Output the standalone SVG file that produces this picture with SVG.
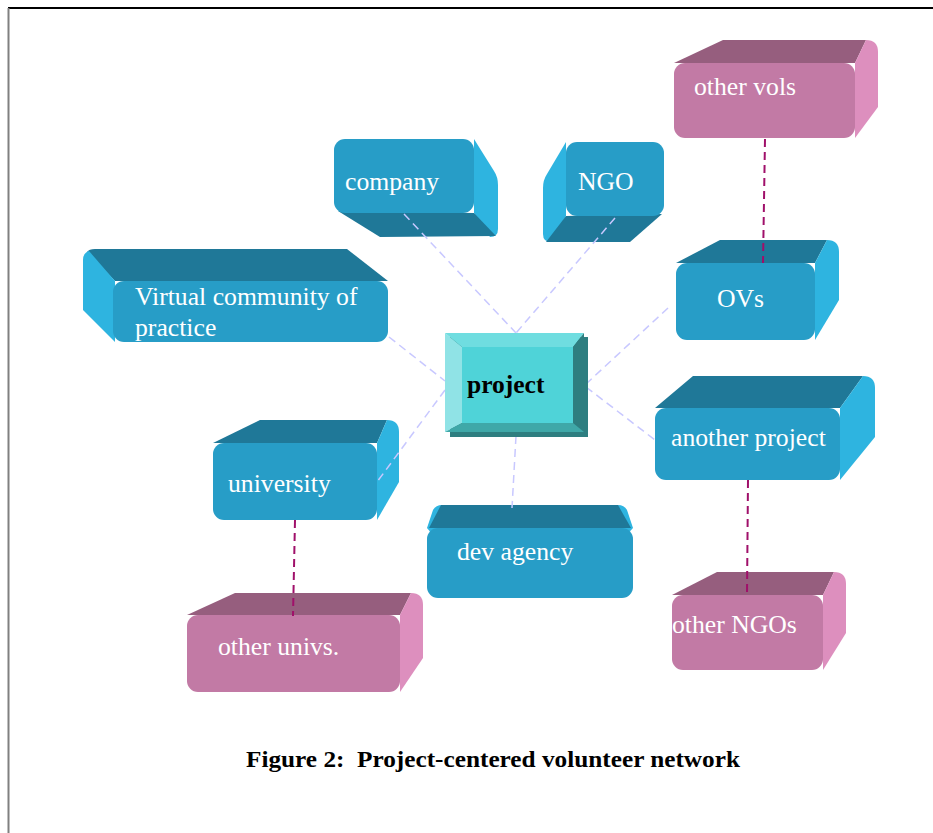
<svg xmlns="http://www.w3.org/2000/svg" width="933" height="833" viewBox="0 0 933 833">
<style>
.front{fill:#279dc7}
.dark{fill:#1f7898}
.light{fill:#2eb4e0}
.pfront{fill:#c27aa5}
.pdark{fill:#965e7e}
.plight{fill:#dd8fbe}
.lbl{font-family:"Liberation Serif","Times New Roman",serif;font-size:25.7px;fill:#ffffff}
.conn{stroke:#c8c8ff;stroke-width:1.5;stroke-dasharray:8 5;fill:none}
.pconn{stroke:#a0106a;stroke-width:2;stroke-dasharray:8 5;fill:none}
</style>
<rect x="0" y="0" width="933" height="833" fill="#ffffff"/>
<line x1="8" y1="8" x2="933" y2="8" stroke="#000000" stroke-width="2"/>
<line x1="8.5" y1="8" x2="8.5" y2="833" stroke="#808080" stroke-width="2"/>

<g id="company">
<path class="light" d="M474,139 L494,171 Q498,177 498,185 L498,229 Q498,237 490,237 L474,213 Z"/>
<path class="dark" d="M338,211 L474,213 L496,236 L380,237 Z"/>
<rect class="front" x="334" y="139" width="140" height="74" rx="11"/>
<text class="lbl" x="345" y="190">company</text>
</g>

<g id="ngo">
<path class="light" d="M566,142 L547,174 Q543,180 543,188 L543,234 Q543,242 551,242 L566,216 Z"/>
<path class="dark" d="M566,216 L662,214 L630,242 L546,242 Z"/>
<rect class="front" x="566" y="142" width="98" height="74" rx="11"/>
<text class="lbl" x="578" y="190">NGO</text>
</g>

<g id="vcop">
<path class="dark" d="M115,281 L87,252 Q89,249 95,249 L347,249 L388,281 Z"/>
<path class="light" d="M115,281 L89,251 Q83,253 83,260 L83,310 L115,342 Z"/>
<rect class="front" x="113" y="281" width="275" height="61" rx="11"/>
<text class="lbl" x="135" y="305">Virtual community of</text>
<text class="lbl" x="135" y="336">practice</text>
</g>

<g id="othervols">
<path class="pdark" d="M674,63 L723,40 L866,40 L855,63 Z"/>
<path class="plight" d="M855,63 L866,40 Q878,40 878,52 L878,107 L855,138 Z"/>
<rect class="pfront" x="674" y="63" width="181" height="75" rx="11"/>
<text class="lbl" x="694" y="95">other vols</text>
</g>

<g id="ovs">
<path class="dark" d="M676,263 L720,240 L827,240 L815,263 Z"/>
<path class="light" d="M815,263 L827,240 Q839,240 839,252 L839,300 L815,340 Z"/>
<rect class="front" x="676" y="263" width="139" height="77" rx="11"/>
<text class="lbl" x="717" y="307">OVs</text>
</g>

<g id="anotherproject">
<path class="dark" d="M655,408 L693,376 L863,376 L840,408 Z"/>
<path class="light" d="M840,408 L863,376 Q875,376 875,388 L875,437 L840,480 Z"/>
<rect class="front" x="655" y="408" width="185" height="72" rx="11"/>
<text class="lbl" x="671" y="446">another project</text>
</g>

<g id="otherngos">
<path class="pdark" d="M672,595 L717,572 L834,572 L823,595 Z"/>
<path class="plight" d="M823,595 L834,572 Q846,572 846,584 L846,633 L823,670 Z"/>
<rect class="pfront" x="672" y="595" width="151" height="75" rx="11"/>
<text class="lbl" x="672" y="633">other NGOs</text>
</g>

<g id="university">
<path class="dark" d="M213,443 L260,420 L387,420 L377,443 Z"/>
<path class="light" d="M377,443 L387,420 Q399,420 399,432 L399,482 L377,520 Z"/>
<rect class="front" x="213" y="443" width="164" height="77" rx="11"/>
<text class="lbl" x="228" y="492">university</text>
</g>

<g id="otherunivs">
<path class="pdark" d="M187,615 L235,593 L411,593 L400,615 Z"/>
<path class="plight" d="M400,615 L411,593 Q423,593 423,605 L423,658 L400,692 Z"/>
<rect class="pfront" x="187" y="615" width="213" height="77" rx="11"/>
<text class="lbl" x="218" y="655">other univs.</text>
</g>

<g id="devagency">
<path class="light" d="M427,528 L433,510 Q436,505 442,505 L437,540 Z"/>
<path class="light" d="M633,528 L627,510 Q624,505 618,505 L622,540 Z"/>
<path class="dark" d="M429,528 L441,505 L618,505 L631,528 Z"/>
<rect class="front" x="427" y="528" width="206" height="70" rx="11"/>
<text class="lbl" x="457" y="560">dev agency</text>
</g>

<g id="connectors">
<line class="conn" x1="404" y1="214" x2="516" y2="333"/>
<line class="conn" x1="615" y1="218" x2="516" y2="333"/>
<line class="conn" x1="389" y1="337" x2="445" y2="381"/>
<line class="conn" x1="445" y1="390" x2="377" y2="482"/>
<line class="conn" x1="516" y1="436" x2="512" y2="508"/>
<line class="conn" x1="668" y1="308" x2="586" y2="384"/>
<line class="conn" x1="586" y1="387" x2="655" y2="440"/>
<line class="pconn" x1="765" y1="139" x2="763" y2="263"/>
<line class="pconn" x1="295" y1="520" x2="293" y2="616"/>
<line class="pconn" x1="748" y1="480" x2="747" y2="595"/>
</g>

<g id="project">
<rect x="450" y="337" width="138" height="100" fill="#2e7e80"/>
<polygon fill="#90e3e6" points="445,333 462,347 462,423 445,432"/>
<polygon fill="#6fdde0" points="445,333 584,333 573,347 462,347"/>
<polygon fill="#2e7e80" points="584,333 584,432 573,423 573,347"/>
<polygon fill="#3fa8a8" points="445,432 584,432 573,423 462,423"/>
<rect x="462" y="347" width="111" height="76" fill="#4fd3d8"/>
<text x="467" y="393" font-family="'Liberation Serif','Times New Roman',serif" font-size="25.5" font-weight="bold" fill="#000000">project</text>
</g>

<text x="246" y="767" font-family="'Liberation Serif','Times New Roman',serif" font-size="24" font-weight="bold" fill="#000000" textLength="494" lengthAdjust="spacingAndGlyphs" xml:space="preserve">Figure 2:  Project-centered volunteer network</text>
</svg>
